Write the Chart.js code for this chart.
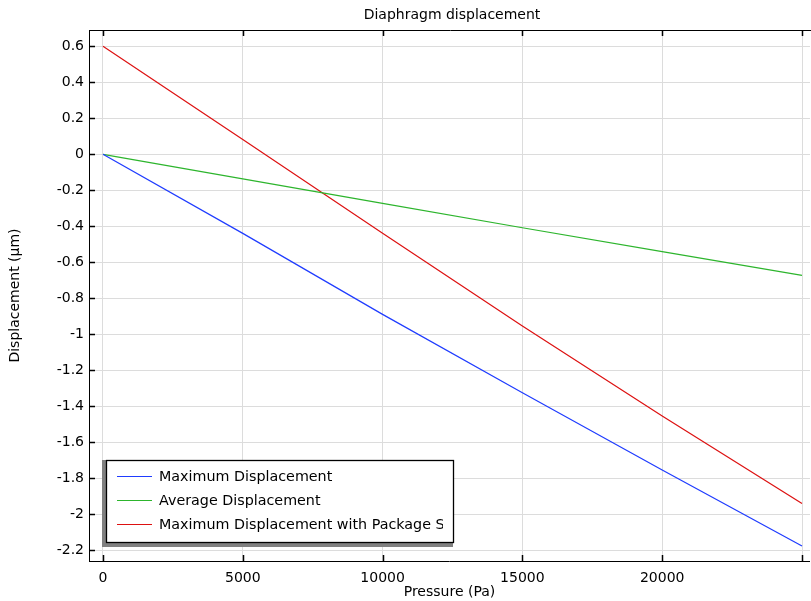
<!DOCTYPE html>
<html>
<head>
    <title>Diaphragm displacement</title>
    <style>
        html, body { margin: 0; padding: 0; background: #fff; overflow: hidden; }
        #wrap { width: 811px; height: 601px; }
    </style>
</head>
<body>
    <div id="wrap"><canvas id="chart" width="811" height="601"></canvas></div>

    <script src="https://cdn.jsdelivr.net/npm/chart.js"></script>
    <script>
        // values
        const pressure = [0, 5000, 10000, 15000, 20000, 25000];
        const maxDisp = [0, -0.439, -0.889, -1.324, -1.754, -2.176];
        const avgDisp = [0, -0.136, -0.272, -0.408, -0.540, -0.672];
        const maxDispPkg = [0.6, 0.083, -0.439, -0.954, -1.454, -1.940];
        const seriesLabels = ['Maximum Displacement', 'Average Displacement', 'Maximum Displacement with Package Stress'];
        const seriesColors = ['#1f3cff', '#2db52d', '#dd1111'];
        const xTicks = [0, 5000, 10000, 15000, 20000, 25000];
        const xTickLabels = ['0', '5000', '10000', '15000', '20000', ''];
        const yTicks = [-2.2, -2, -1.8, -1.6, -1.4, -1.2, -1, -0.8, -0.6, -0.4, -0.2, 0, 0.2, 0.4, 0.6];

        const FONT = 'DejaVu Sans';

        const toPoints = ys => pressure.map((x, i) => ({ x: x, y: ys[i] }));

        // frame, inward tick marks, title and the boxed legend
        const decor = {
            id: 'decor',
            afterDatasetsDraw(chart) {
                const ctx = chart.ctx;
                const a = chart.chartArea;
                const xs = chart.scales.x, ys = chart.scales.y;
                ctx.save();
                ctx.strokeStyle = '#000';
                ctx.lineWidth = 1;
                ctx.beginPath();
                ctx.moveTo(a.left, a.top + 0.5);
                ctx.lineTo(a.right + 5, a.top + 0.5);
                ctx.stroke();
                ctx.lineWidth = 1.5;
                ctx.beginPath();
                xTicks.forEach(v => {
                    const px = Math.round(xs.getPixelForValue(v)) + 0.5;
                    ctx.moveTo(px, a.bottom); ctx.lineTo(px, a.bottom - 6);
                    ctx.moveTo(px, a.top); ctx.lineTo(px, a.top + 6);
                });
                yTicks.forEach(v => {
                    const py = Math.round(ys.getPixelForValue(v)) + 0.5;
                    ctx.moveTo(a.left, py); ctx.lineTo(a.left + 6, py);
                });
                ctx.stroke();

                // title
                ctx.fillStyle = '#000';
                ctx.font = '14px ' + FONT;
                ctx.textAlign = 'center';
                ctx.textBaseline = 'middle';
                ctx.fillText('Diaphragm displacement', 452, 15.5);

                // legend with its grey drop shadow
                ctx.fillStyle = '#808080';
                ctx.fillRect(102, 460, 351, 87);
                ctx.fillStyle = '#fff';
                ctx.fillRect(106, 460, 347, 83);
                ctx.lineWidth = 1.3;
                ctx.strokeStyle = '#000';
                ctx.strokeRect(106.5, 460.5, 347, 82);
                ctx.save();
                ctx.beginPath();
                ctx.rect(106, 460, 337, 82);
                ctx.clip();
                ctx.textAlign = 'left';
                ctx.font = '14.3px ' + FONT;
                chart.data.datasets.forEach((ds, i) => {
                    const ly = 476 + i * 24;
                    ctx.strokeStyle = ds.borderColor;
                    ctx.lineWidth = 1;
                    ctx.beginPath();
                    ctx.moveTo(117, ly + 0.5);
                    ctx.lineTo(152, ly + 0.5);
                    ctx.stroke();
                    ctx.fillStyle = '#000';
                    ctx.fillText(ds.label, 159, ly + 1);
                });
                ctx.restore();
                ctx.restore();
            }
        };

        new Chart(document.getElementById('chart'), {
            type: 'line',
            data: {
                datasets: [maxDisp, avgDisp, maxDispPkg].map((ys, i) => ({
                    label: seriesLabels[i],
                    data: toPoints(ys),
                    borderColor: seriesColors[i],
                    borderWidth: 1.2,
                    pointRadius: 0,
                    tension: 0,
                    fill: false
                }))
            },
            options: {
                responsive: false,
                animation: false,
                layout: { padding: { top: 30, right: 0, left: 0, bottom: 0 } },
                plugins: {
                    legend: { display: false },
                    tooltip: { enabled: false },
                    title: { display: false }
                },
                scales: {
                    x: {
                        type: 'linear',
                        min: -500,
                        max: 25286,
                        afterBuildTicks: s => { s.ticks = xTicks.map(v => ({ value: v })); },
                        afterFit: s => { s.height = 40; },
                        grid: { color: '#dcdcdc', drawTicks: false },
                        border: { color: '#000', width: 1 },
                        ticks: {
                            color: '#000',
                            font: { family: FONT, size: 14 },
                            padding: 9,
                            maxRotation: 0,
                            callback: (v, i) => xTickLabels[i]
                        },
                        title: {
                            display: true,
                            text: 'Pressure (Pa)',
                            color: '#000',
                            font: { family: FONT, size: 14 },
                            padding: { top: 0, bottom: 0 }
                        }
                    },
                    y: {
                        type: 'linear',
                        min: -2.259,
                        max: 0.6906,
                        afterBuildTicks: s => { s.ticks = yTicks.map(v => ({ value: v })); },
                        afterFit: s => { s.width = 89; },
                        grid: { color: '#dcdcdc', drawTicks: false },
                        border: { color: '#000', width: 1 },
                        ticks: {
                            color: '#000',
                            font: { family: FONT, size: 14 },
                            padding: 5,
                            callback: v => {
                                const t = Number(v.toFixed(1));
                                return t === 0 ? '0' : String(t);
                            }
                        },
                        title: {
                            display: true,
                            text: 'Displacement (µm)',
                            color: '#000',
                            font: { family: FONT, size: 14 },
                            padding: { top: 7, bottom: 0 }
                        }
                    }
                }
            },
            plugins: [decor]
        });
    </script>
</body>
</html>
